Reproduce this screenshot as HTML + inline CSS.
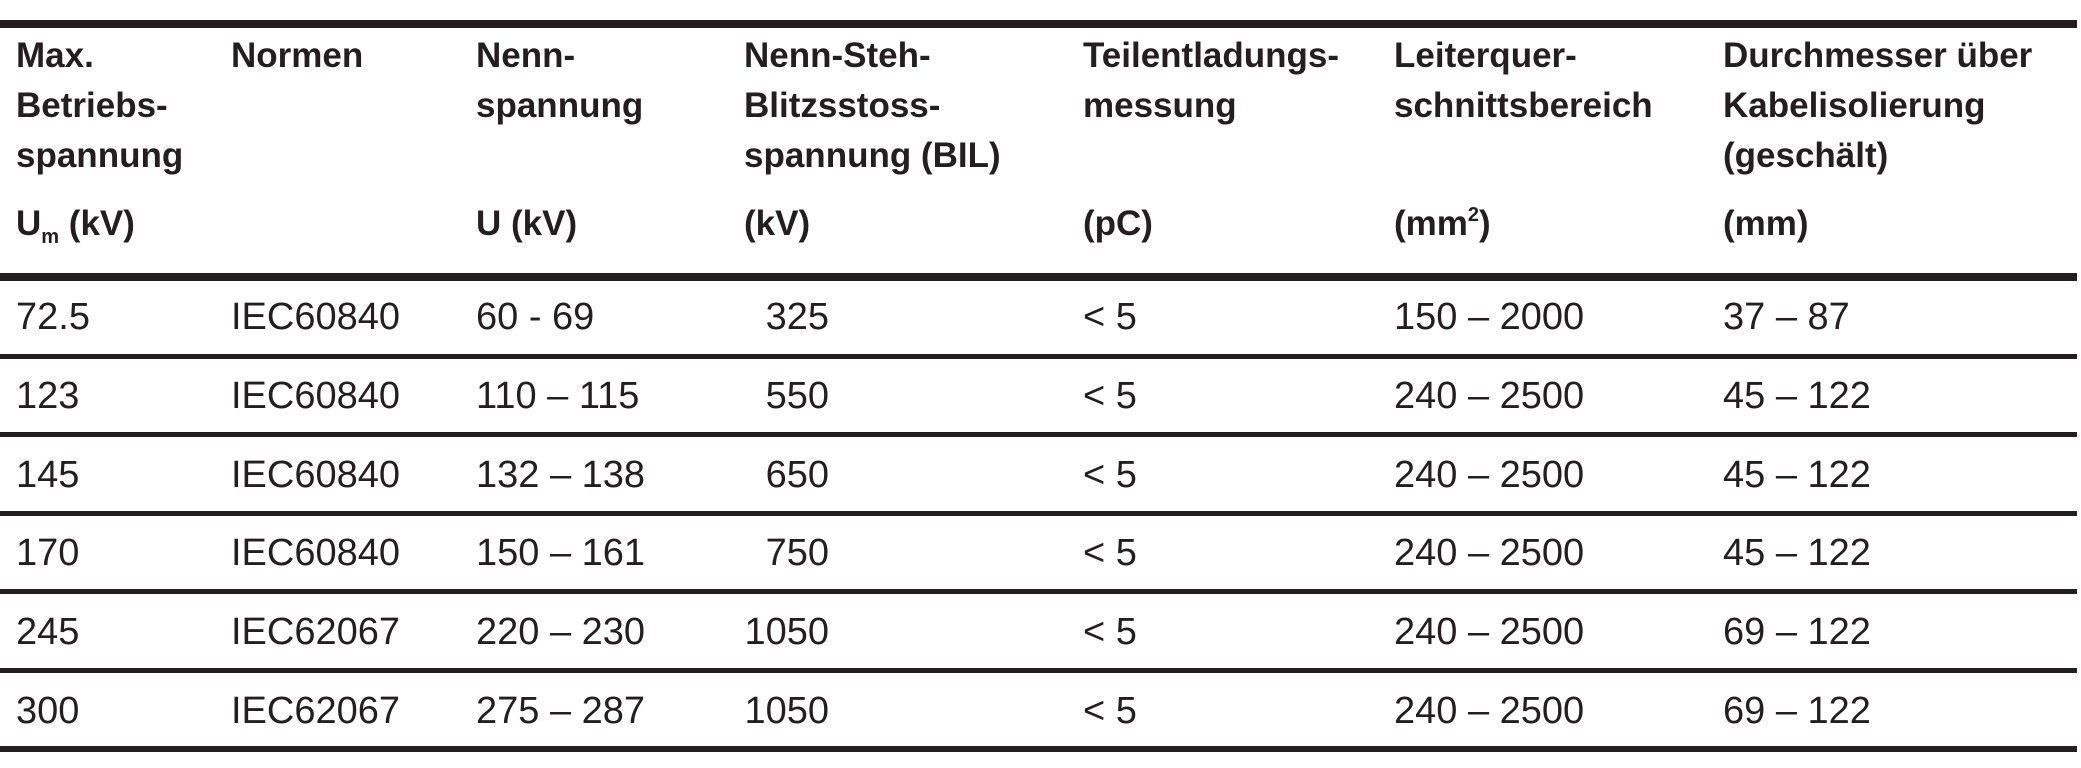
<!DOCTYPE html>
<html><head><meta charset="utf-8"><style>
html,body{margin:0;padding:0;background:#fff;}
#c{position:relative;width:2081px;height:768px;overflow:hidden;font-family:"Liberation Sans",Arial,sans-serif;color:#231f20;}
.l{position:absolute;left:0;width:2077px;background:#231f20;}
.h{position:absolute;font-weight:bold;font-size:35px;line-height:50px;white-space:nowrap;}
.d{position:absolute;font-size:38px;line-height:40px;white-space:nowrap;}
sub{font-size:20px;vertical-align:-8px;line-height:0;}
sup{font-size:20px;position:relative;top:-14px;vertical-align:baseline;line-height:0;}
</style></head><body><div id="c">
<div class="l" style="top:20px;height:8px"></div>
<div class="l" style="top:273px;height:8px"></div>
<div class="l" style="top:354px;height:5px"></div>
<div class="l" style="top:432px;height:5px"></div>
<div class="l" style="top:511px;height:5px"></div>
<div class="l" style="top:589px;height:5px"></div>
<div class="l" style="top:668px;height:5px"></div>
<div class="l" style="top:746px;height:6px"></div>

<div class="h" style="left:16px;top:31px">Max.<br>Betriebs-<br>spannung</div>
<div class="h" style="left:16px;top:199px">U<sub>m</sub> (kV)</div>
<div class="h" style="left:231px;top:31px">Normen</div>
<div class="h" style="left:476px;top:31px">Nenn-<br>spannung</div>
<div class="h" style="left:476px;top:199px">U (kV)</div>
<div class="h" style="left:744px;top:31px">Nenn-Steh-<br>Blitzsstoss-<br>spannung (BIL)</div>
<div class="h" style="left:744px;top:199px">(kV)</div>
<div class="h" style="left:1083px;top:31px">Teilentladungs-<br>messung</div>
<div class="h" style="left:1083px;top:199px">(pC)</div>
<div class="h" style="left:1394px;top:31px">Leiterquer-<br>schnittsbereich</div>
<div class="h" style="left:1394px;top:199px">(mm<sup>2</sup>)</div>
<div class="h" style="left:1723px;top:31px">Durchmesser über<br>Kabelisolierung<br>(geschält)</div>
<div class="h" style="left:1723px;top:199px">(mm)</div>

<div class="d" style="left:16px;top:297px">72.5</div>
<div class="d" style="left:231px;top:297px">IEC60840</div>
<div class="d" style="left:476px;top:297px">60 - 69</div>
<div class="d" style="left:744px;width:85px;text-align:right;top:297px">325</div>
<div class="d" style="left:1083px;top:297px">&lt; 5</div>
<div class="d" style="left:1394px;top:297px">150 – 2000</div>
<div class="d" style="left:1723px;top:297px">37 – 87</div>

<div class="d" style="left:16px;top:376px">123</div>
<div class="d" style="left:231px;top:376px">IEC60840</div>
<div class="d" style="left:476px;top:376px">110 – 115</div>
<div class="d" style="left:744px;width:85px;text-align:right;top:376px">550</div>
<div class="d" style="left:1083px;top:376px">&lt; 5</div>
<div class="d" style="left:1394px;top:376px">240 – 2500</div>
<div class="d" style="left:1723px;top:376px">45 – 122</div>

<div class="d" style="left:16px;top:455px">145</div>
<div class="d" style="left:231px;top:455px">IEC60840</div>
<div class="d" style="left:476px;top:455px">132 – 138</div>
<div class="d" style="left:744px;width:85px;text-align:right;top:455px">650</div>
<div class="d" style="left:1083px;top:455px">&lt; 5</div>
<div class="d" style="left:1394px;top:455px">240 – 2500</div>
<div class="d" style="left:1723px;top:455px">45 – 122</div>

<div class="d" style="left:16px;top:533px">170</div>
<div class="d" style="left:231px;top:533px">IEC60840</div>
<div class="d" style="left:476px;top:533px">150 – 161</div>
<div class="d" style="left:744px;width:85px;text-align:right;top:533px">750</div>
<div class="d" style="left:1083px;top:533px">&lt; 5</div>
<div class="d" style="left:1394px;top:533px">240 – 2500</div>
<div class="d" style="left:1723px;top:533px">45 – 122</div>

<div class="d" style="left:16px;top:612px">245</div>
<div class="d" style="left:231px;top:612px">IEC62067</div>
<div class="d" style="left:476px;top:612px">220 – 230</div>
<div class="d" style="left:744px;width:85px;text-align:right;top:612px">1050</div>
<div class="d" style="left:1083px;top:612px">&lt; 5</div>
<div class="d" style="left:1394px;top:612px">240 – 2500</div>
<div class="d" style="left:1723px;top:612px">69 – 122</div>

<div class="d" style="left:16px;top:691px">300</div>
<div class="d" style="left:231px;top:691px">IEC62067</div>
<div class="d" style="left:476px;top:691px">275 – 287</div>
<div class="d" style="left:744px;width:85px;text-align:right;top:691px">1050</div>
<div class="d" style="left:1083px;top:691px">&lt; 5</div>
<div class="d" style="left:1394px;top:691px">240 – 2500</div>
<div class="d" style="left:1723px;top:691px">69 – 122</div>
</div></body></html>
